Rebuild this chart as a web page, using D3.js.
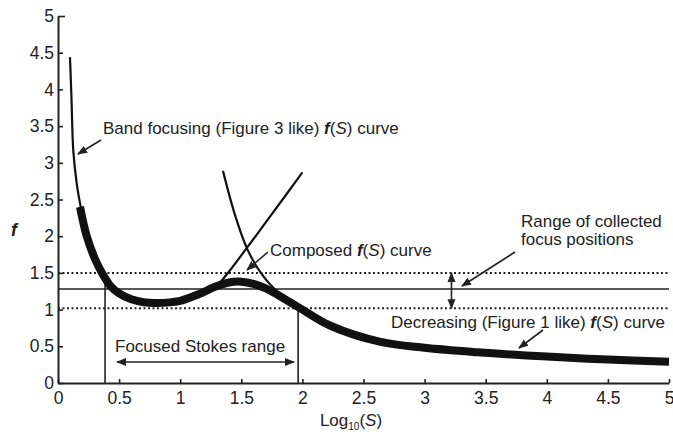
<!DOCTYPE html>
<html>
<head>
<meta charset="utf-8">
<script src="https://cdn.jsdelivr.net/npm/d3@7"></script>
<style>
  body { margin: 0; background: #fff; }
  svg text { font-family: "Liberation Sans", Arial, sans-serif; fill: #222; }
</style>
</head>
<body>
<svg id="chart"></svg>
<script>
// data: [log10(S), f]
var bandCurve = [[0.098, 4.44], [0.11, 3.9], [0.125, 3.17], [0.153, 2.72], [0.18, 2.45], [0.235, 2.0],
  [0.3, 1.7], [0.36, 1.5], [0.43, 1.32], [0.5, 1.22], [0.6, 1.14], [0.7, 1.1], [0.8, 1.09], [1.0, 1.12],
  [1.15, 1.2], [1.3, 1.33], [1.4, 1.52], [1.55, 1.85], [1.75, 2.3], [2.0, 2.87]];
var decreasingCurve = [[1.35, 2.89], [1.45, 2.28], [1.55, 1.82], [1.66, 1.5], [1.76, 1.3], [1.88, 1.14],
  [2.0, 1.0], [2.23, 0.78], [2.64, 0.56], [3.0, 0.48], [3.43, 0.42], [4.0, 0.36], [4.5, 0.32], [5.0, 0.29]];
var composedCurve = [[0.18, 2.4], [0.235, 2.0], [0.3, 1.7], [0.36, 1.5], [0.43, 1.32], [0.5, 1.22],
  [0.6, 1.14], [0.7, 1.1], [0.8, 1.09], [1.0, 1.12], [1.15, 1.21], [1.3, 1.32], [1.4, 1.37], [1.5, 1.38],
  [1.6, 1.35], [1.7, 1.29], [1.8, 1.2], [1.9, 1.1], [2.0, 1.0], [2.23, 0.78], [2.64, 0.56],
  [3.0, 0.48], [3.43, 0.42], [4.0, 0.36], [4.5, 0.32], [5.0, 0.29]];
var focusRange = [1.02, 1.5];     // dotted lines
var focusLevel = 1.28;            // solid line
var stokesRange = [0.385, 1.965]; // vertical lines
var stokesTops = [1.36, 1.04];
var xTicks = [0, 0.5, 1, 1.5, 2, 2.5, 3, 3.5, 4, 4.5, 5];
var yTicks = [0, 0.5, 1, 1.5, 2, 2.5, 3, 3.5, 4, 4.5, 5];

var W = 673, H = 432;
var margin = { top: 16, right: 4, bottom: 49, left: 58 };
var width = W - margin.left - margin.right;
var height = H - margin.top - margin.bottom;

var x = d3.scaleLinear().domain([0, 5]).range([0, width]);
var y = d3.scaleLinear().domain([0, 5]).range([height, 0]);

var svg = d3.select("svg#chart")
  .attr("width", W)
  .attr("height", H);

var defs = svg.append("defs");
defs.append("marker")
  .attr("id", "head")
  .attr("viewBox", "0 0 10 10")
  .attr("refX", 9).attr("refY", 5)
  .attr("markerWidth", 10).attr("markerHeight", 10)
  .attr("markerUnits", "userSpaceOnUse")
  .attr("orient", "auto-start-reverse")
  .append("path")
  .attr("d", "M0,1 L10,5 L0,9 z")
  .attr("fill", "#222");

var g = svg.append("g")
  .attr("transform", "translate(" + margin.left + "," + margin.top + ")");

// reference lines
g.selectAll(".dotted")
  .data(focusRange)
  .enter().append("line")
  .attr("x1", 0).attr("x2", width)
  .attr("y1", function (d) { return y(d); })
  .attr("y2", function (d) { return y(d); })
  .attr("stroke", "#222")
  .attr("stroke-width", 2)
  .attr("stroke-dasharray", "2,2.5");

g.append("line")
  .attr("x1", 0).attr("x2", width)
  .attr("y1", y(focusLevel)).attr("y2", y(focusLevel))
  .attr("stroke", "#222")
  .attr("stroke-width", 1.6);

g.selectAll(".vline")
  .data(stokesRange)
  .enter().append("line")
  .attr("x1", function (d) { return x(d); })
  .attr("x2", function (d) { return x(d); })
  .attr("y1", y(0))
  .attr("y2", function (d, i) { return y(stokesTops[i]); })
  .attr("stroke", "#222")
  .attr("stroke-width", 1.6);

// curves
var line = d3.line()
  .x(function (d) { return x(d[0]); })
  .y(function (d) { return y(d[1]); })
  .curve(d3.curveCatmullRom.alpha(0.5));

g.append("path").datum(bandCurve)
  .attr("d", line).attr("fill", "none")
  .attr("stroke", "#111").attr("stroke-width", 2.2);
g.append("path").datum(decreasingCurve)
  .attr("d", line).attr("fill", "none")
  .attr("stroke", "#111").attr("stroke-width", 2.2);
g.append("path").datum(composedCurve)
  .attr("d", line).attr("fill", "none")
  .attr("stroke", "#111").attr("stroke-width", 8);

// axes
var xAxis = g.append("g")
  .attr("transform", "translate(0," + height + ")")
  .call(d3.axisBottom(x).tickValues(xTicks).tickSizeInner(-4).tickSizeOuter(0).tickPadding(9)
    .tickFormat(d3.format("")));
var yAxis = g.append("g")
  .call(d3.axisLeft(y).tickValues(yTicks).tickSizeInner(-5).tickSizeOuter(0).tickPadding(4)
    .tickFormat(d3.format("")));

[xAxis, yAxis].forEach(function (a) {
  a.select(".domain").attr("stroke", "#222").attr("stroke-width", 2);
  a.selectAll(".tick line").attr("stroke", "#222").attr("stroke-width", 1.6);
  a.selectAll(".tick text").attr("font-size", 17.5).attr("fill", "#222")
    .style("font-family", "'Liberation Sans', Arial, sans-serif");
});
yAxis.select(".tick:last-of-type line").attr("x2", 7);

// axis titles
svg.append("text")
  .attr("x", 11).attr("y", 236)
  .attr("font-size", 18).attr("font-weight", "bold").attr("font-style", "italic")
  .text("f");

var xt = svg.append("text")
  .attr("x", 351).attr("y", 426)
  .attr("text-anchor", "middle")
  .attr("font-size", 17);
xt.append("tspan").text("Log");
xt.append("tspan").attr("font-size", 10).attr("dy", 4).text("10");
xt.append("tspan").attr("dy", -4).text("(");
xt.append("tspan").attr("font-style", "italic").text("S");
xt.append("tspan").text(")");

// annotation helper
function fsLabel(sel, before, after) {
  sel.append("tspan").text(before);
  sel.append("tspan").attr("font-weight", "bold").attr("font-style", "italic").text("f");
  sel.append("tspan").text("(");
  sel.append("tspan").attr("font-style", "italic").text("S");
  sel.append("tspan").text(")" + after);
}

function arrow(x1, y1, x2, y2, both) {
  var l = svg.append("line")
    .attr("x1", x1).attr("y1", y1).attr("x2", x2).attr("y2", y2)
    .attr("stroke", "#222").attr("stroke-width", 1.6)
    .attr("marker-end", "url(#head)");
  if (both) l.attr("marker-start", "url(#head)");
}

fsLabel(svg.append("text").attr("x", 103).attr("y", 134).attr("font-size", 17),
  "Band focusing (Figure 3 like) ", " curve");
arrow(101, 140, 78, 154);

fsLabel(svg.append("text").attr("x", 270).attr("y", 256).attr("font-size", 17),
  "Composed ", " curve");
arrow(268, 252, 247, 270);

svg.append("text").attr("x", 521).attr("y", 227).attr("font-size", 17).text("Range of collected");
svg.append("text").attr("x", 521).attr("y", 245).attr("font-size", 17).text("focus positions");
arrow(515, 252, 462, 286);
arrow(margin.left + x(3.22), margin.top + y(focusRange[1]), margin.left + x(3.22), margin.top + y(focusRange[0]), true);

fsLabel(svg.append("text").attr("x", 391).attr("y", 328).attr("font-size", 17),
  "Decreasing (Figure 1 like) ", " curve");
arrow(543, 330, 519, 348);

svg.append("text").attr("x", 115).attr("y", 352).attr("font-size", 17).text("Focused Stokes range");
arrow(117, 362, 294, 362, true);
</script>
</body>
</html>
